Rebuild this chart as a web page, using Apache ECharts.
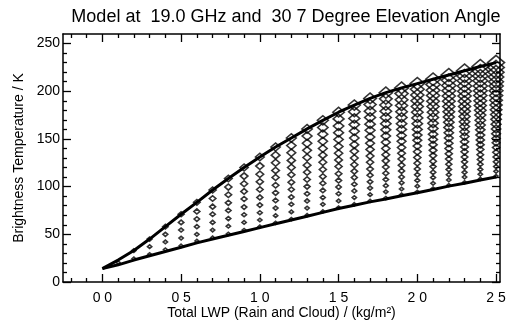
<!DOCTYPE html>
<html>
<head>
<meta charset="utf-8">
<script src="https://cdn.jsdelivr.net/npm/echarts@6/dist/echarts.min.js"></script>
<style>html,body{margin:0;padding:0;background:#fff}#c{width:508px;height:321px}</style>
</head>
<body>
<div id="c"></div>
<script>
// Total LWP (kg/m^2) of each column of model runs
var colX = [0.0,0.1,0.2,0.3,0.4,0.5,0.6,0.7,0.8,0.9,1.0,1.1,1.2,1.3,1.4,1.5,1.6,1.7,1.8,1.9,2.0,2.1,2.2,2.3,2.4,2.5];
// upper envelope (thick line), K
var upperTB = [14,23,33,45,58,71,83.5,96.5,108.5,120,131,141.5,151,160.5,169.5,178,185.5,192.5,198.5,203.5,208,212.5,217,221.5,226,230];
// lower envelope (thick line), K
var lowerTB = [14,18,23,27.5,32,36.5,41,45,49,53,57,61,65,69,73,77,80.5,84,87,90.5,93.5,97,100.5,103.5,107,110];
// model brightness temperatures per column (bottom to top), K
var colTB = [
  [],
  [20.5],
  [24.5,33],
  [29,37,45],
  [34,42,50,58],
  [38,46,54.5,62.5,71],
  [43,50,58,66,74,83.5],
  [46.5,54.5,62.5,71,79,87.5,96.5],
  [50.5,58.5,66.5,75,83,91.5,99.5,108.5],
  [54.5,62.5,70.5,78.5,87,95,103,111,120],
  [58,65,72.6,80.6,88.7,97,105,113,121.5,131],
  [62,69.5,77.5,85.5,93.5,101.5,109.5,117,125,133,141.5],
  [66,73.5,81.5,89,97,104.5,112.5,120,127.5,135.5,143,151],
  [70,77.5,85,92.5,100,107.5,115,122.5,130.5,138,145.5,153,160.5],
  [74,81.5,88.5,96,103.5,110.5,118,125.5,133,140,147.5,155,162,169.5],
  [78,85,92.5,99.5,106.5,113.5,121,128,135,142,149.5,156.5,163.5,171,178],
  [81.5,88.5,95.5,102.5,109.5,116,123,130,137,144,151,158,165,171.5,178.5,185.5],
  [85,91.5,98.5,105,112,118.5,125.5,132,139,145.5,152,159,165.5,172.5,179,186,192.5],
  [88,94.5,101,107.5,114,120.5,127,133.5,140,146.5,153,159.5,166,172.5,179,185.5,192,198.5],
  [91.5,97.5,104,110,116.5,122.5,129,135,141,147.5,153.5,160,166,172.5,178.5,185,191,197.5,203.5],
  [94.5,100.5,106.5,112.5,118.5,124.5,130.5,136.5,142.5,148.5,154,160,166,172,178,184,190,196,202,208],
  [98,103.5,109.5,115,121,126.5,132.5,138,144,149.5,155,161,166.5,172.5,178,184,189.5,195.5,201,207,212.5],
  [101.5,107,112.5,118,123.5,129,134.5,140,145.5,151,156.5,162,167.5,173,178.5,184,189.5,195,200.5,206,211.5,217],
  [104.5,110,115,120.5,126,131,136.5,141.5,147,152.5,157.5,163,168,173.5,179,184,189.5,195,200,205.5,211,216,221.5],
  [108,113,118,123.5,128.5,133.5,139,144,149,154,159.5,164.5,169.5,175,180,185,190,195.5,200.5,205.5,211,216,221,226],
  [111,116,121,126,131,136,141,146,150.5,155.5,160.5,165.5,170.5,175.5,180.5,185.5,190.5,195.5,200.5,205.5,210,215,220,225,230]
];
// axis ticks and labels
var xMajorTicks = [0,0.5,1.0,1.5,2.0,2.5];
var xTickLabels = ['0 0','0 5','1 0','1 5','2 0','2 5'];
var xMinorTicks = [-0.2,-0.1,0.1,0.2,0.3,0.4,0.6,0.7,0.8,0.9,1.1,1.2,1.3,1.4,1.6,1.7,1.8,1.9,2.1,2.2,2.3,2.4];
var yMajorTicks = [0,50,100,150,200,250];
var yTickLabels = ['0','50','100','150','200','250'];
var yMinorTicks = [10,20,30,40,60,70,80,90,110,120,130,140,160,170,180,190,210,220,230,240];

var titleText = 'Model at  19.0 GHz and  30 7 Degree Elevation Angle';
var xName = 'Total LWP (Rain and Cloud) / (kg/m\u00b2)';
var yName = 'Brightness Temperature / K';

var FONT = 'Liberation Sans, Arial, Helvetica, sans-serif';
var XMIN = -0.25, XMAX = 2.525, YMIN = 0, YMAX = 260;

var pts = [];
colTB.forEach(function (col, i) {
  col.forEach(function (tb, k) {
    pts.push([colX[i], tb, k + 1]);
  });
});
var upperLine = colX.map(function (x, i) { return [x, upperTB[i]]; });
var lowerLine = colX.map(function (x, i) { return [x, lowerTB[i]]; });

function xAx(pos, ticks, len, showLine, labels) {
  var a = {
    type: 'value', position: pos, min: XMIN, max: XMAX,
    splitLine: {show: false},
    axisLine: {show: showLine, onZero: false, lineStyle: {color: '#000', width: 1.5}},
    axisTick: {show: true, inside: true, length: len, customValues: ticks, lineStyle: {color: '#000', width: 1.3}},
    axisLabel: {show: false}
  };
  if (labels) {
    a.axisLabel = {show: true, customValues: xMajorTicks, margin: 9, color: '#000', fontFamily: FONT, fontSize: 14,
      formatter: function (v) { var i = xMajorTicks.indexOf(Math.round(v * 10) / 10); return i >= 0 ? xTickLabels[i] : ''; }};
    a.name = xName; a.nameLocation = 'middle'; a.nameGap = 24; a.nameMoveOverlap = false;
    a.nameTextStyle = {color: '#000', fontFamily: FONT, fontSize: 14};
  }
  return a;
}
function yAx(pos, ticks, len, showLine, labels) {
  var a = {
    type: 'value', position: pos, min: YMIN, max: YMAX,
    splitLine: {show: false},
    axisLine: {show: showLine, onZero: false, lineStyle: {color: '#000', width: 1.5}},
    axisTick: {show: true, inside: true, length: len, customValues: ticks, lineStyle: {color: '#000', width: 1.3}},
    axisLabel: {show: false}
  };
  if (labels) {
    a.axisLabel = {show: true, customValues: yMajorTicks, margin: 3, color: '#000', fontFamily: FONT, fontSize: 14,
      formatter: function (v) { var i = yMajorTicks.indexOf(Math.round(v)); return i >= 0 ? yTickLabels[i] : ''; }};
    a.name = yName; a.nameLocation = 'middle'; a.nameGap = 37; a.nameMoveOverlap = false;
    a.nameTextStyle = {color: '#000', fontFamily: FONT, fontSize: 14};
  }
  return a;
}

var chart = echarts.init(document.getElementById('c'), null, {renderer: 'canvas'});
chart.setOption({
  animation: false,
  backgroundColor: '#fff',
  title: {text: titleText, left: 281, top: 3, textAlign: 'center',
    textStyle: {color: '#000', fontFamily: FONT, fontSize: 18, fontWeight: 'normal'}},
  grid: {left: 63, right: 8, top: 34, bottom: 39, containLabel: false, outerBoundsMode: 'none'},
  xAxis: [
    xAx('bottom', xMajorTicks, 8, true, true),
    xAx('bottom', xMinorTicks, 4, false, false),
    xAx('top', xMajorTicks, 8, true, false),
    xAx('top', xMinorTicks, 4, false, false)
  ],
  yAxis: [
    yAx('left', yMajorTicks, 8, true, true),
    yAx('left', yMinorTicks, 4, false, false),
    yAx('right', yMajorTicks, 8, true, false),
    yAx('right', yMinorTicks, 4, false, false)
  ],
  series: [
    {
      type: 'scatter', xAxisIndex: 0, yAxisIndex: 0, data: pts, z: 2,
      symbol: 'diamond',
      symbolSize: function (d) { var s = 3.2 + 0.55 * d[2]; return [s, s * 0.85]; },
      itemStyle: {color: 'rgba(255,255,255,0)', borderColor: '#000', borderWidth: 1.6},
      emphasis: {disabled: true}
    },
    {
      type: 'line', xAxisIndex: 0, yAxisIndex: 0, data: upperLine, z: 3,
      showSymbol: false, smooth: false, lineStyle: {color: '#000', width: 3}
    },
    {
      type: 'line', xAxisIndex: 0, yAxisIndex: 0, data: lowerLine, z: 3,
      showSymbol: false, smooth: false, lineStyle: {color: '#000', width: 3}
    }
  ]
});
</script>
</body>
</html>
